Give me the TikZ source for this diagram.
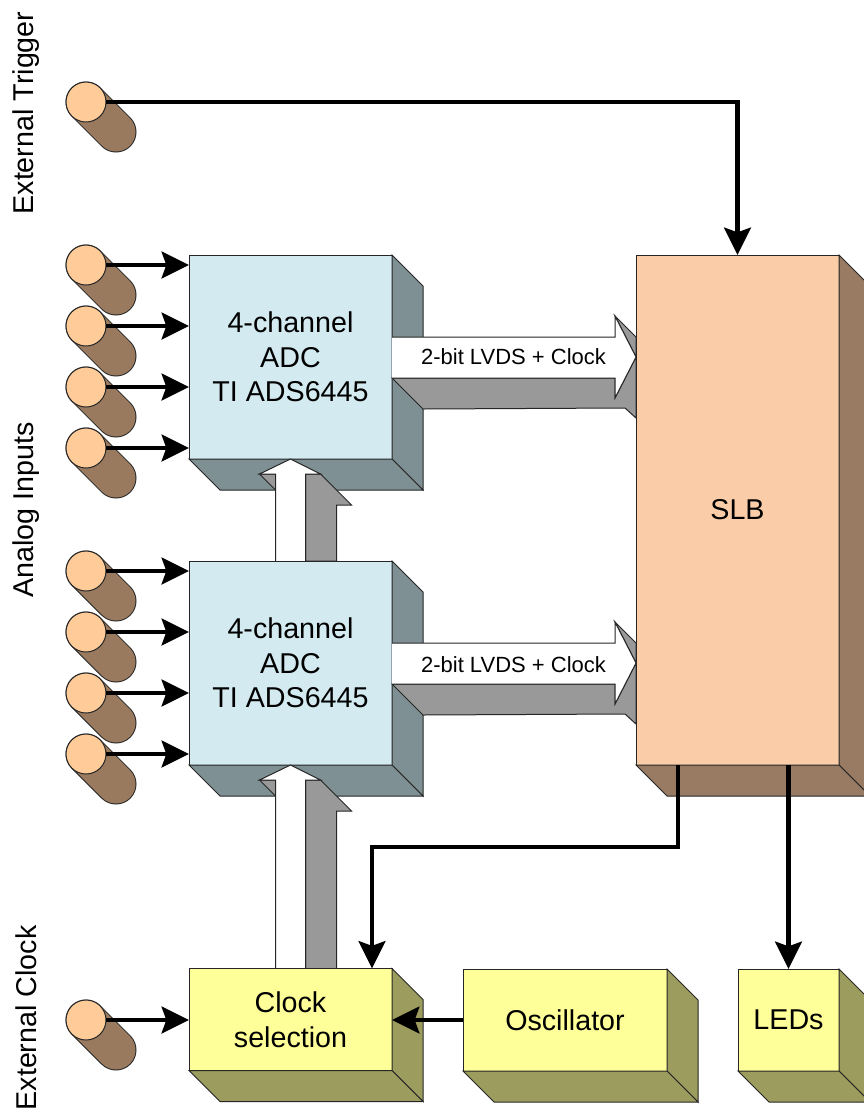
\documentclass[tikz,border=0pt]{standalone}
\usepackage{fontspec}
\setmainfont{Liberation Sans}
\usetikzlibrary{calc,arrows.meta}
\definecolor{cylface}{HTML}{FFCC99}
\definecolor{cylside}{HTML}{997A5E}
\definecolor{adcface}{HTML}{D2EAF0}
\definecolor{adcside}{HTML}{7E9093}
\definecolor{slbface}{HTML}{FACDA8}
\definecolor{slbside}{HTML}{997B63}
\definecolor{yelface}{HTML}{FFFF99}
\definecolor{yelside}{HTML}{9C9C5E}
\definecolor{arrgray}{HTML}{999999}
\tikzset{
  px/.style={x=0.75pt,y=-0.75pt},
  outl/.style={draw=black!85,line width=0.75pt,line join=miter},
  front/.style={outl,inner sep=0pt,outer sep=0pt,align=center,font=\fontsize{21.5}{26}\selectfont},
  conn/.style={line width=3.2pt,draw=black,-{Stealth[length=20.5pt,width=20pt,inset=3.5pt]}},
  portface/.style={circle,outl,fill=cylface,minimum size=30pt,inner sep=0pt,outer sep=0pt},
  sidelabel/.style={rotate=90,font=\fontsize{21.5}{26}\selectfont,inner sep=0pt},
  buslabel/.style={font=\fontsize{16.5}{20}\selectfont,inner sep=0pt},
  busgray/.style={outl,fill=arrgray},
  buswhite/.style={outl,fill=white},
  anchorpt/.style={inner sep=0pt,outer sep=0pt,minimum size=0pt}
}
% name, centre x, centre y, width, height, face, side, text
\newcommand{\blockbox}[8]{%
  \node[front,fill=#6,minimum width=#4*0.75pt,minimum height=#5*0.75pt] (#1) at (#2,#3) {#8};
  \draw[outl,fill=#7] (#1.north east) -- ++(31,31) -- ++(0,#5) -- ++(-31,-31) -- cycle;
  \draw[outl,fill=#7] (#1.south west) -- ++(31,31) -- ++(#4,0) -- ++(-31,-31) -- cycle;
}
% name, x, y
\newcommand{\portcyl}[3]{%
  \draw[black!85,line width=30.75pt,line cap=round] (#2,#3) -- ++(30,30);
  \draw[cylside,line width=29.25pt,line cap=round] (#2,#3) -- ++(30,30);
  \node[portface] (#1) at (#2,#3) {};
}
% source node, target node, text, label y shift: block arrow pointing right
\newcommand{\busright}[4]{%
  \coordinate (tip) at (#2.west |- #1.east);
  \draw[busgray] (#1.east) ++(0,21) -- ++(31,31) -- ($(tip)+(-11,51)$) -- ($(tip)+(0,61)$) -- (tip)
     -- ($(tip)+(-21,41)$) -- ($(tip)+(-21,21)$) -- cycle;
  \draw[busgray] ($(tip)+(-21,-41)$) -- ($(tip)+(0,-20)$) -- (tip) -- cycle;
  \draw[buswhite] (#1.east) ++(0,-20) -- ($(tip)+(-21,-20)$) -- ($(tip)+(-21,-41)$) -- (tip)
     -- ($(tip)+(-21,41)$) -- ($(tip)+(-21,21)$) -- ($(#1.east)+(0,21)$);
  \node[buslabel] at ($(#1.east)!0.5!(tip)+(-0.5,#4)$) {#3};
}
% lower node, upper node: block arrow pointing up
\newcommand{\busup}[2]{%
  \coordinate (tip) at (#2.south);
  \coordinate (foot) at (#1.north);
  \draw[busgray] ($(tip)+(-31,15)$) -- ($(tip)+(-15,15)$) -- ($(tip)+(-15,31)$) -- cycle;
  \draw[busgray] ($(tip)+(15,15)$) -- ($(tip)+(30,15)$) -- ($(tip)+(61,46)$) -- ($(tip)+(46,46)$)
     -- ($(foot)+(46,0)$) -- ($(foot)+(15,0)$) -- cycle;
  \draw[buswhite] ($(foot)+(-15,0)$) -- ($(tip)+(-15,15)$) -- ($(tip)+(-31,15)$) -- (tip)
     -- ($(tip)+(30,15)$) -- ($(tip)+(15,15)$) -- ($(foot)+(15,0)$);
}
\begin{document}
\begin{tikzpicture}[px]
\useasboundingbox (0,0) rectangle (864,1111);
\clip (0,0) rectangle (864,1111);
\fill[white] (0,0) rectangle (864,1111);

% rotated labels
\node[sidelabel] (lt) at (26.5,113) {External Trigger};
\node[sidelabel] (la) at (26.5,510) {Analog Inputs};
\node[sidelabel] (lc) at (26.5,1018) {External Clock};

% ports
\portcyl{trig}{86}{102}
\portcyl{a1}{86}{265}
\portcyl{a2}{86}{326}
\portcyl{a3}{86}{387}
\portcyl{a4}{86}{448}
\portcyl{b1}{86}{571}
\portcyl{b2}{86}{632}
\portcyl{b3}{86}{693}
\portcyl{b4}{86}{754}
\portcyl{ck}{86}{1020}

% upper ADC
\blockbox{adca}{290.5}{357}{203}{204}{adcface}{adcside}{4-channel\\ADC\\TI ADS6445}
\node[anchorpt] (adcbtop) at (290.5,561) {};
\busup{adcbtop}{adca}
% lower ADC
\blockbox{adcb}{290.5}{663}{203}{204}{adcface}{adcside}{4-channel\\ADC\\TI ADS6445}
\node[anchorpt] (clktop) at (290.5,969) {};
\busup{clktop}{adcb}

% SLB
\node[anchorpt,minimum width=203*0.75pt,minimum height=510*0.75pt] (slbref) at (737.5,510) {};
\busright{adca}{slbref}{2-bit LVDS + Clock}{0}
\busright{adcb}{slbref}{2-bit LVDS + Clock}{2}
\blockbox{slb}{737.5}{510}{203}{510}{slbface}{slbside}{SLB}

% lower row
\blockbox{clk}{290.5}{1019.5}{203}{102}{yelface}{yelside}{Clock\\selection}
\blockbox{osc}{565}{1020}{204}{102}{yelface}{yelside}{Oscillator}
\blockbox{led}{788.5}{1020}{101}{102}{yelface}{yelside}{LEDs}

% connectors
\draw[conn] (trig.east) -| (slb.north);
\foreach \p/\q in {a1/adca,a2/adca,a3/adca,a4/adca,b1/adcb,b2/adcb,b3/adcb,b4/adcb,ck/clk}
  \draw[conn] (\p.east) -- (\q.west |- \p.east);
\draw[conn] (osc.west) -- (clk.east |- osc.west);
\draw[conn] ($(slb.south west)+(42,0)$) -- ++(0,82) -| ($(clk.north west)+(183,0)$);
\draw[conn] (slb.south -| led.north) -- (led.north);
\end{tikzpicture}
\end{document}
